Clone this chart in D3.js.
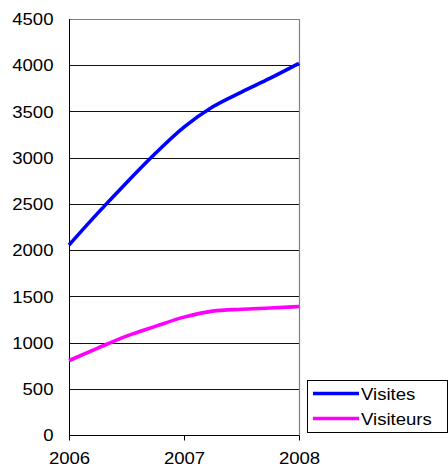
<!DOCTYPE html>
<html>
<head>
<meta charset="utf-8">
<script src="https://cdn.jsdelivr.net/npm/d3@7"></script>
<style>
  body { margin: 0; background: #fff; }
  text { font-family: "Liberation Sans", Arial, sans-serif; font-size: 16px; fill: #000; }
</style>
</head>
<body>
<div id="chart"></div>
<script>
// quarterly points, 2006 -> 2008
var periods = [2006, 2006.25, 2006.5, 2006.75, 2007, 2007.25, 2007.5, 2007.75, 2008];
var visites = [2055, 2400, 2730, 3045, 3330, 3550, 3710, 3860, 4020];
var visiteurs = [805, 940, 1070, 1175, 1275, 1340, 1360, 1374, 1390];
var xTicks = [2006, 2007, 2008];
var yTicks = [0, 500, 1000, 1500, 2000, 2500, 3000, 3500, 4000, 4500];
var seriesNames = ['Visites', 'Visiteurs'];
var seriesColors = ['#0000ff', '#ff00ff'];

var W = 448, H = 466;
var pLeft = 69, pRight = 299, pTop = 19, pBottom = 435;
var fs = 16.5;
var sx = 1.16; // text in the picture is a bit wider than normal

var svg = d3.select('#chart').append('svg')
  .attr('width', W).attr('height', H);

var x = d3.scaleLinear().domain([2006, 2008]).range([pLeft, pRight]);
var y = d3.scaleLinear().domain([0, 4500]).range([pBottom, pTop]);

// gridlines
svg.append('g').selectAll('line')
  .data(yTicks.slice(1, -1))
  .enter().append('line')
  .attr('x1', pLeft).attr('x2', pRight)
  .attr('y1', function(d){ return Math.round(y(d)) + 0.5; })
  .attr('y2', function(d){ return Math.round(y(d)) + 0.5; })
  .attr('stroke', '#111').attr('stroke-width', 1);

// frame top / right (grey)
svg.append('path')
  .attr('d', 'M' + pLeft + ',' + (Math.round(y(4500)) + 0.5) + 'H' + (pRight + 0.5) + 'V' + pBottom)
  .attr('fill', 'none').attr('stroke', '#808080').attr('stroke-width', 1.2);

// y axis
var yAxis = svg.append('g').attr('transform', 'translate(' + (pLeft + 0.5) + ',0)')
  .call(d3.axisLeft(y).tickValues(yTicks).tickSize(0).tickPadding(0).tickFormat(d3.format('d')));
yAxis.select('.domain').attr('stroke', '#000').attr('d', 'M0,' + pTop + 'V' + (pBottom + 5));
yAxis.selectAll('.tick text')
  .attr('x', null).attr('dy', '0.36em')
  .attr('font-size', fs).attr('font-family', null)
  .attr('text-anchor', 'end')
  .attr('transform', 'translate(' + (53 - pLeft) + ',0) scale(' + sx + ',1)');

// x axis
var xAxis = svg.append('g').attr('transform', 'translate(0,' + (pBottom + 0.5) + ')')
  .call(d3.axisBottom(x).tickValues(xTicks).tickSize(5).tickPadding(0).tickFormat(d3.format('d')));
xAxis.select('.domain').attr('stroke', '#000').attr('d', 'M' + pLeft + ',0H' + (pRight + 0.5));
xAxis.selectAll('.tick line').attr('stroke', '#000');
xAxis.selectAll('.tick text')
  .attr('font-size', fs).attr('font-family', null)
  .attr('y', 0).attr('dy', null)
  .attr('transform', 'translate(0,28) scale(' + sx + ',1)');

// series
var line = d3.line()
  .x(function(d, i){ return x(periods[i]); })
  .y(function(d){ return y(d); })
  .curve(d3.curveMonotoneX);

[visites, visiteurs].forEach(function(vals, k){
  svg.append('path')
    .datum(vals)
    .attr('d', line)
    .attr('fill', 'none')
    .attr('stroke', seriesColors[k])
    .attr('stroke-width', 3.6);
});

// legend
var lg = svg.append('g');
lg.append('rect')
  .attr('x', 307.5).attr('y', 380.5).attr('width', 140).attr('height', 52)
  .attr('fill', '#fff').attr('stroke', '#000').attr('stroke-width', 1);
seriesNames.forEach(function(name, k){
  var ly = 393.5 + k * 25;
  lg.append('line')
    .attr('x1', 313).attr('x2', 359).attr('y1', ly).attr('y2', ly)
    .attr('stroke', seriesColors[k]).attr('stroke-width', 3.6);
  lg.append('text')
    .attr('transform', 'translate(361,' + (ly + 6) + ') scale(' + sx + ',1)')
    .attr('font-size', fs)
    .text(name);
});
</script>
</body>
</html>
